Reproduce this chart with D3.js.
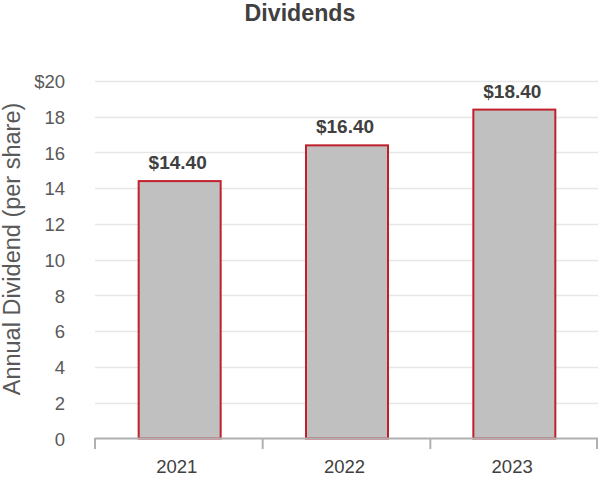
<!DOCTYPE html>
<html><head><meta charset="utf-8">
<script src="https://cdn.jsdelivr.net/npm/d3@7"></script>
<style>body{margin:0;background:#fff}svg{display:block;font-family:"Liberation Sans",Arial,sans-serif}</style>
</head><body><svg id="c" width="602" height="480"></svg>
<script>
const categories = ["2021","2022","2023"];
const values = [14.40, 16.40, 18.40];
const yTicks = [0,2,4,6,8,10,12,14,16,18,20];
const yTickLabels = ["0","2","4","6","8","10","12","14","16","18","$20"];
const title = "Dividends";
const yTitle = "Annual Dividend (per share)";

const svg = d3.select("#c");
const x = d3.scaleBand().domain(categories).range([96, 598]).paddingInner(0.51).paddingOuter(0.255);
const y = d3.scaleLinear().domain([0,20]).range([438.5, 81]);

svg.append("text").attr("x", 300).attr("y", 21).attr("text-anchor","middle")
  .attr("font-weight","bold").attr("font-size",23.2).attr("fill","#404040").text(title);

svg.append("g").selectAll("line").data(yTicks.filter(d=>d>0)).join("line")
  .attr("x1",95).attr("x2",598).attr("y1",d=>Math.round(y(d))+0.5).attr("y2",d=>Math.round(y(d))+0.5)
  .attr("stroke","#e6e6e6").attr("stroke-width",1.5);

svg.append("g").selectAll("text").data(yTicks).join("text")
  .attr("x",65).attr("y",d=>y(d)+7).attr("text-anchor","end")
  .attr("font-size",18.5).attr("fill","#595959").text((d,i)=>yTickLabels[i]);

svg.append("text").attr("transform","translate(19.5,249) rotate(-90)").attr("text-anchor","middle")
  .attr("font-size",23.5).attr("fill","#595959").text(yTitle);

svg.append("g").selectAll("rect").data(values).join("rect")
  .attr("x",(d,i)=>x(categories[i])).attr("width",x.bandwidth())
  .attr("y",d=>y(d)).attr("height",d=>y(0)-y(d))
  .attr("fill","#c0c0c0").attr("stroke","#c0202c").attr("stroke-width",2);

svg.append("g").selectAll("text").data(values).join("text")
  .attr("x",(d,i)=>x(categories[i])+x.bandwidth()/2-2).attr("y",d=>y(d)-12)
  .attr("text-anchor","middle").attr("font-weight","bold").attr("font-size",19).attr("fill","#404040")
  .text(d=>"$"+d.toFixed(2));

const xa = d3.scaleBand().domain(categories).range([95,598]);
svg.append("line").attr("x1",95).attr("x2",598).attr("y1",438.5).attr("y2",438.5).attr("stroke","#b0b0b0").attr("stroke-width",2);
const bounds = [95].concat(categories.map(c=>xa(c)+xa.bandwidth()));
svg.append("g").selectAll("line").data(bounds).join("line")
  .attr("x1",d=>Math.min(d,597)).attr("x2",d=>Math.min(d,597)).attr("y1",438).attr("y2",449).attr("stroke","#b0b0b0").attr("stroke-width",2);
svg.append("g").selectAll("text").data(categories).join("text")
  .attr("x",d=>xa(d)+xa.bandwidth()/2-2).attr("y",473).attr("text-anchor","middle")
  .attr("font-size",18.5).attr("fill","#404040").text(d=>d);
</script></body></html>
